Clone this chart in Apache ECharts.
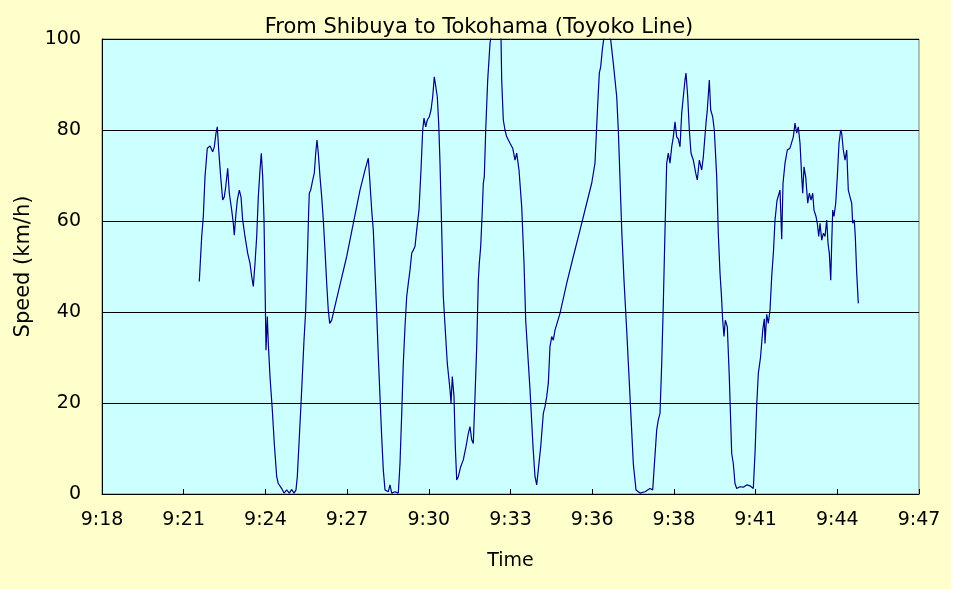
<!DOCTYPE html>
<html>
<head>
<meta charset="utf-8">
<script src="https://cdn.jsdelivr.net/npm/echarts@6/dist/echarts.min.js"></script>
<style>
html,body{margin:0;padding:0;background:#ffffff;}
#chart{width:951px;height:589px;}
</style>
</head>
<body>
<div id="chart"></div>
<script>
// Time labels for the x-axis ticks (one every 2.95 minutes from the axis start)
const timeLabels = ['9:18','9:21','9:24','9:27','9:30','9:33','9:36','9:38','9:41','9:44','9:47'];
const tickStep = 2.95;       // minutes between ticks
const speedTicks = [0, 20, 40, 60, 80, 100];

// minutes after the axis start
const minutes = [
3.513,3.600,3.658,3.719,3.802,3.900,3.997,4.055,4.116,4.163,4.214,4.286,4.358,4.416,4.467,4.539,4.597,4.683,4.741,4.777,
4.828,4.885,4.958,5.019,5.080,5.163,5.261,5.344,5.405,5.463,5.525,5.586,5.644,5.705,5.752,5.803,5.850,5.897,5.922,5.969,
6.005,6.066,6.149,6.221,6.308,6.366,6.427,6.489,6.572,6.669,6.763,6.850,6.933,7.005,7.052,7.113,7.175,7.233,7.294,7.355,
7.413,7.464,7.485,7.536,7.608,7.666,7.716,7.763,7.810,7.872,7.933,7.991,8.052,8.113,8.171,8.222,8.294,8.377,8.594,8.836,
9.074,9.316,9.496,9.616,9.652,9.677,9.738,9.796,9.857,9.919,9.977,10.038,10.099,10.157,10.219,10.338,10.399,10.461,10.580,10.699,
10.760,10.822,10.879,10.941,11.002,11.060,11.121,11.183,11.240,11.302,11.363,11.446,11.518,11.580,11.627,11.688,11.746,11.818,11.880,11.941,
11.999,12.060,12.107,12.157,12.205,12.266,12.324,12.396,12.468,12.566,12.602,12.649,12.710,12.757,12.808,12.865,12.952,13.046,13.143,13.227,
13.288,13.349,13.407,13.468,13.530,13.588,13.624,13.674,13.732,13.768,13.804,13.855,13.927,14.010,14.118,14.263,14.407,14.432,14.490,14.551,
14.613,14.733,14.830,14.913,14.974,15.057,15.155,15.238,15.299,15.357,15.454,15.563,15.635,15.696,15.754,15.841,15.935,15.996,16.057,16.115,
16.176,16.238,16.295,16.357,16.537,16.779,17.018,17.260,17.501,17.682,17.801,17.884,17.957,18.007,18.065,18.126,18.235,18.368,18.462,18.585,
18.643,18.705,18.766,18.848,18.946,19.065,19.184,19.282,19.427,19.608,19.787,19.885,19.932,20.029,20.087,20.148,20.210,20.268,20.329,20.390,
20.448,20.509,20.571,20.629,20.690,20.751,20.809,20.871,20.932,20.990,21.051,21.087,21.149,21.207,21.268,21.351,21.438,21.496,21.568,21.654,
21.712,21.809,21.856,21.929,21.979,22.051,22.109,22.196,22.253,22.315,22.362,22.412,22.459,22.506,22.578,22.650,22.737,22.795,22.856,22.918,
23.037,23.156,23.279,23.398,23.517,23.579,23.640,23.698,23.777,23.857,23.915,23.940,24.001,24.059,24.120,24.182,24.247,24.301,24.373,24.481,
24.543,24.590,24.662,24.745,24.842,24.962,25.023,25.084,25.142,25.204,25.265,25.301,25.348,25.409,25.482,25.540,25.601,25.662,25.709,25.781,
25.828,25.879,25.926,25.987,26.045,26.106,26.168,26.215,26.262,26.313,26.348,26.385,26.431,26.493,26.550,26.612,26.673,26.709,26.767,26.828,
26.890,26.947,27.009,27.070,27.106,27.164,27.200,27.251,27.309
];

// speed in km/h
const speeds = [
46.7,56.6,61,69.7,76,76.5,75.2,76.3,79.3,80.7,75.6,69.7,64.6,65.3,67.5,71.6,66.1,62.4,59.5,56.9,
61,64.6,66.8,65.3,60.2,56.6,52.9,50.7,47.8,45.6,50.7,56.6,65.3,71.2,74.9,69.7,60.2,41.9,31.6,39,
33.1,25.8,18.5,11.1,3.8,2.3,2.0,1.2,0.2,0.9,0.2,1.0,0.2,0.9,3.8,11.1,18.5,25.8,33.8,40.4,
51.4,62.4,66.1,66.8,69,70.5,74.9,77.8,74.9,69.7,65.3,60.2,53.6,46.3,40.4,37.5,38.2,40.4,46,52.2,
59.5,66.8,71.2,73.8,74.1,68.3,62.4,58,49.2,39.7,30.2,21.4,12.6,5.3,0.9,0.5,2,0.2,0.5,0.2,
6.7,17.7,28.7,36.8,43.4,46.3,49.2,52.9,53.6,54.4,58,62.4,71.2,80,82.6,80.7,82.2,82.9,84.4,87.3,
91.7,92.1,87.3,81.5,72.7,58,43.4,36,28.7,22.9,19.9,25.8,21.4,10.4,3.1,3.8,6,7.5,10.4,13.3,
14.8,11.9,11.1,21.4,32.4,47,50.7,54.4,62.4,68.3,69.7,80,91,99,104,106,100.5,91,82.2,80,
78.5,77.1,76,73.4,74.9,71.2,63.1,50.7,38.2,32.4,23,10.4,3.8,2,2.3,10.4,17.7,19.2,21.4,24.3,
32.4,34.6,33.8,36,39.7,46.3,52.2,58,63.9,68.3,72.7,83.7,92.5,93.9,97.6,100.5,102,99.8,94.7,87.3,
80,69,58,47,36,21.4,6.7,0.9,0.2,0.5,1.2,0.9,5.3,14.1,16.3,17.7,28.7,41.9,58,72.7,
74.9,72.7,76.3,78.5,81.8,78.5,78,76.3,83.7,87.3,91,92.5,87.3,80,74.9,73.4,70.5,69,73.4,71.2,
74.1,81.5,84.4,91,84.4,82.9,80,69.7,57.3,48.5,44.1,38.2,34.6,38.2,36.8,25.8,8.9,6.7,2.3,1.2,
1.6,1.5,2,1.8,1.2,9,19.5,26.5,30,36,38.5,33.1,39.5,37.5,40.4,47.8,53.5,60.2,64.5,66.8,
56,68.3,72.7,75.6,76,78.5,81.5,79.3,80.7,77.1,69.7,66.1,71.9,69.7,63.9,66.1,64.6,66.1,62.4,61,
59.5,56.6,59.5,55.8,57.3,56.6,60.2,55.1,52.9,47,55.1,62.4,61,63.9,69.7,77.1,80,79.3,75.6,73.4,
75.6,66.8,65.3,63.9,59.5,60.2,56.6,48.5,41.9
];

const points = minutes.map((m, i) => [m, speeds[i]]);
const FONT = 'DejaVu Sans';

const chart = echarts.init(document.getElementById('chart'), null, {renderer: 'canvas'});
chart.setOption({
  animation: false,
  backgroundColor: '#FFFFCC',
  title: {
    text: 'From Shibuya to Tokohama (Toyoko Line)',
    left: 474, top: 12, textAlign: 'center',
    textStyle: {fontFamily: FONT, fontSize: 21, fontWeight: 'normal', color: '#000'}
  },
  grid: {
    left: 102, right: 32, top: 39, bottom: 95,
    show: true, backgroundColor: '#CCFFFF', borderColor: '#808080', borderWidth: 1
  },
  xAxis: {
    type: 'value',
    min: 0, max: tickStep * (timeLabels.length - 1), interval: tickStep,
    name: 'Time', nameLocation: 'middle', nameGap: 58,
    nameTextStyle: {fontFamily: FONT, fontSize: 19, color: '#000'},
    axisLine: {show: true, lineStyle: {color: '#000', width: 1}},
    axisTick: {show: true, inside: true, length: 5, lineStyle: {color: '#000'}},
    splitLine: {show: false},
    axisLabel: {
      fontFamily: FONT, fontSize: 19, color: '#000', margin: 17,
      formatter: v => timeLabels[Math.round(v / tickStep)] || ''
    }
  },
  yAxis: {
    type: 'value',
    min: speedTicks[0], max: speedTicks[speedTicks.length - 1], interval: speedTicks[1] - speedTicks[0],
    name: 'Speed (km/h)', nameLocation: 'middle', nameGap: 65, nameRotate: 90,
    nameTextStyle: {fontFamily: FONT, fontSize: 21, color: '#000'},
    axisLine: {show: true, lineStyle: {color: '#000', width: 1}},
    axisTick: {show: false},
    splitLine: {show: true, lineStyle: {color: '#000', width: 1}},
    axisLabel: {fontFamily: FONT, fontSize: 19, color: '#000', margin: 21}
  },
  series: [{
    type: 'line',
    data: points,
    showSymbol: false,
    clip: true,
    lineStyle: {color: '#000080', width: 1.2},
    itemStyle: {color: '#000080'}
  }]
});
</script>
</body>
</html>
